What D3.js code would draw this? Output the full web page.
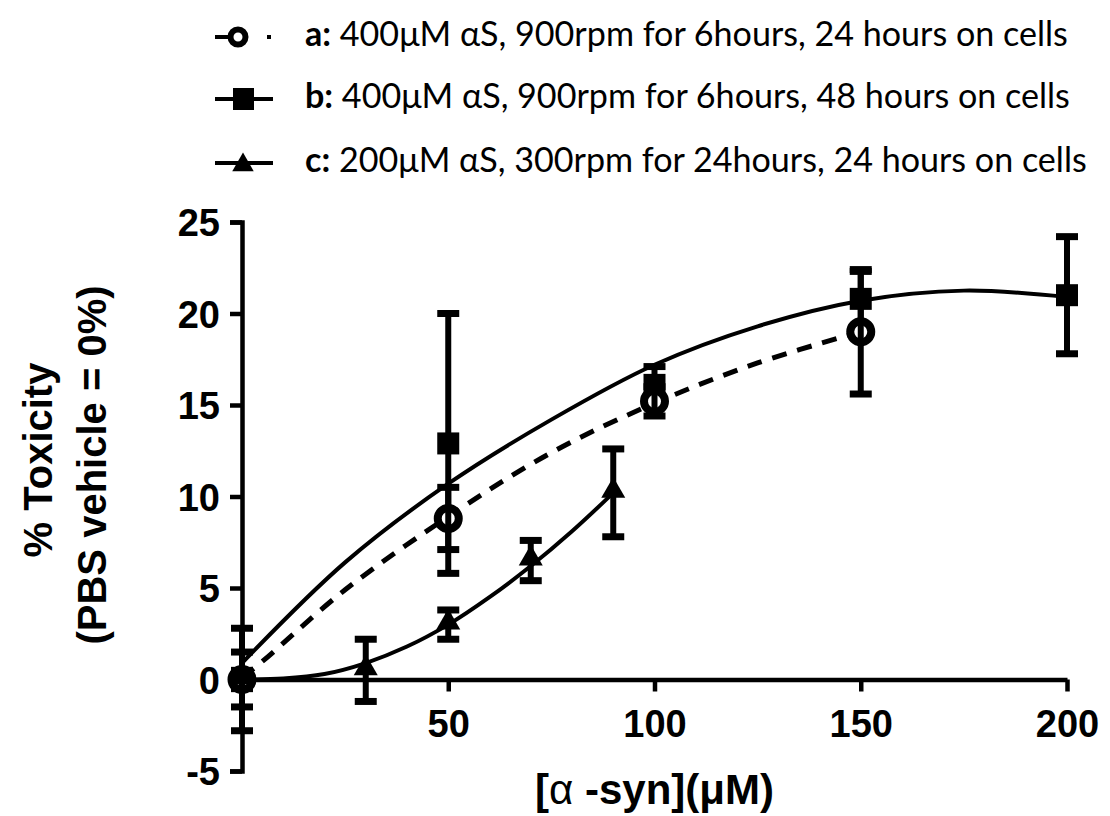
<!DOCTYPE html>
<html>
<head>
<meta charset="utf-8">
<script src="https://cdn.jsdelivr.net/npm/d3@7"></script>
<style>
  body { margin: 0; background: #fff; }
  .axis text { font-family: "Liberation Sans", Arial, sans-serif; font-weight: bold; font-size: 38px; fill: #000; }
  .axis path, .axis line { stroke: #000; stroke-width: 4.5px; }
</style>
</head>
<body>
<div id="chart"></div>
<script>
// legend
const seriesKeys = ["a:", "b:", "c:"];
const seriesLabels = [
  " 400\u03bcM \u03b1S, 900rpm for 6hours, 24 hours on cells",
  " 400\u03bcM \u03b1S, 900rpm for 6hours, 48 hours on cells",
  " 200\u03bcM \u03b1S, 300rpm for 24hours, 24 hours on cells"
];

// measured points, mean and error
const aConc = [0, 50, 100, 150];
const aTox = [0, 8.8, 15.2, 19.0];
const aErr = [1.5, 1.7, 0.8, 3.4];

const bConc = [0, 50, 100, 150, 200];
const bTox = [0, 12.9, 16.1, 20.8, 21.0];
const bErr = [2.8, 7.1, 1.0, 1.5, 3.2];

const cConc = [0, 30, 50, 70, 90];
const cTox = [0, 0.5, 3.0, 6.5, 10.2];
const cErr = [0.5, 1.7, 0.8, 1.1, 2.4];

// fitted curves
const aFitConc = [0, 5, 25, 50, 75, 100, 125, 150];
const aFitTox = [0.1, 1.0, 4.9, 8.9, 12.4, 15.1, 17.3, 19.0];

const bFitConc = [0, 25, 50, 75, 100, 125, 150, 175, 200];
const bFitTox = [0.9, 6.4, 10.7, 14.2, 17.2, 19.3, 20.7, 21.25, 20.9];

const cFitConc = [0, 10, 20, 30, 40, 50, 60, 70, 80, 90];
const cFitTox = [0, 0.05, 0.3, 0.9, 1.8, 3.0, 4.5, 6.2, 8.1, 10.2];

const xTicks = [50, 100, 150, 200];
const yTicks = [-5, 0, 5, 10, 15, 20, 25];

const width = 1110;
const height = 816;

const svg = d3.select("#chart")
  .append("svg")
  .attr("width", width)
  .attr("height", height);

const x = d3.scaleLinear().domain([0, 200]).range([242, 1067]);
const y = d3.scaleLinear().domain([-5, 25]).range([771, 222]);

// axes
svg.append("g")
  .attr("class", "axis")
  .attr("transform", `translate(${x(0)},0)`)
  .call(d3.axisLeft(y).tickValues(yTicks).tickFormat(d => String(d))
    .tickSize(12).tickSizeOuter(12).tickPadding(10))
  .selectAll("text").attr("dy", "0.36em");

svg.append("g")
  .attr("class", "axis")
  .attr("transform", `translate(0,${y(0)})`)
  .call(d3.axisBottom(x).tickValues(xTicks).tickSize(12).tickSizeOuter(0).tickPadding(19));

// axis titles
const titleFont = "'Liberation Sans', Arial, sans-serif";
svg.append("text")
  .attr("x", x(100))
  .attr("y", 804)
  .attr("text-anchor", "middle")
  .attr("font-family", titleFont)
  .attr("font-weight", "bold")
  .attr("font-size", 42)
  .html("[<tspan font-weight='normal'>\u03b1</tspan> -syn](\u03bcM)");

svg.append("text")
  .attr("transform", "translate(52,460) rotate(-90)")
  .attr("text-anchor", "middle")
  .attr("font-family", titleFont)
  .attr("font-weight", "bold")
  .attr("font-size", 40)
  .text("% Toxicity");

svg.append("text")
  .attr("transform", "translate(106,465) rotate(-90)")
  .attr("text-anchor", "middle")
  .attr("font-family", titleFont)
  .attr("font-weight", "bold")
  .attr("font-size", 40)
  .text("(PBS vehicle = 0%)");

// fit curves
const fitLine = d3.line()
  .x(d => x(d[0]))
  .y(d => y(d[1]))
  .curve(d3.curveCatmullRom);

svg.append("path")
  .attr("d", fitLine(d3.zip(bFitConc, bFitTox)))
  .attr("fill", "none").attr("stroke", "#000").attr("stroke-width", 4);

svg.append("path")
  .attr("d", fitLine(d3.zip(aFitConc, aFitTox)))
  .attr("fill", "none").attr("stroke", "#000").attr("stroke-width", 5)
  .attr("stroke-dasharray", "15 11");

svg.append("path")
  .attr("d", fitLine(d3.zip(cFitConc, cFitTox)))
  .attr("fill", "none").attr("stroke", "#000").attr("stroke-width", 4);

// error bars
function errorBars(conc, tox, err) {
  const g = svg.append("g");
  conc.forEach((c, i) => {
    const cx = x(c);
    const top = y(tox[i] + err[i]);
    const bot = y(tox[i] - err[i]);
    g.append("line").attr("x1", cx).attr("x2", cx).attr("y1", top).attr("y2", bot)
      .attr("stroke", "#000").attr("stroke-width", 6);
    [top, bot].forEach(v => {
      g.append("line").attr("x1", cx - 11).attr("x2", cx + 11).attr("y1", v).attr("y2", v)
        .attr("stroke", "#000").attr("stroke-width", 7);
    });
  });
}

// series b: squares
svg.append("g").selectAll("rect")
  .data(d3.zip(bConc, bTox))
  .join("rect")
  .attr("x", d => x(d[0]) - 11)
  .attr("y", d => y(d[1]) - 11)
  .attr("width", 22)
  .attr("height", 22)
  .attr("fill", "#000");
errorBars(bConc, bTox, bErr);

// series a: open circles
svg.append("g").selectAll("circle")
  .data(d3.zip(aConc, aTox))
  .join("circle")
  .attr("cx", d => x(d[0]))
  .attr("cy", d => y(d[1]))
  .attr("r", 10.5)
  .attr("fill", "#fff")
  .attr("stroke", "#000")
  .attr("stroke-width", 8);
errorBars(aConc, aTox, aErr);

// series c: triangles
const triangle = d3.symbol().type(d3.symbolTriangle).size(250);
svg.append("g").selectAll("path")
  .data(d3.zip(cConc, cTox))
  .join("path")
  .attr("transform", d => `translate(${x(d[0])},${y(d[1]) - 2})`)
  .attr("d", triangle)
  .attr("fill", "#000");
errorBars(cConc, cTox, cErr);

// legend
const legendY = [37, 99, 163];
const legend = svg.append("g");

// a: dashed line with open circle
legend.append("line").attr("x1", 215).attr("x2", 229).attr("y1", legendY[0]).attr("y2", legendY[0])
  .attr("stroke", "#000").attr("stroke-width", 4);
legend.append("rect").attr("x", 267).attr("y", legendY[0] - 2).attr("width", 4).attr("height", 4).attr("fill", "#000");
legend.append("circle").attr("cx", 238).attr("cy", legendY[0]).attr("r", 7.5)
  .attr("fill", "#fff").attr("stroke", "#000").attr("stroke-width", 6);

// b: line with square
legend.append("line").attr("x1", 215).attr("x2", 273).attr("y1", legendY[1]).attr("y2", legendY[1])
  .attr("stroke", "#000").attr("stroke-width", 4);
legend.append("rect").attr("x", 233).attr("y", legendY[1] - 11).attr("width", 21).attr("height", 22).attr("fill", "#000");

// c: line with triangle
legend.append("line").attr("x1", 215).attr("x2", 273).attr("y1", legendY[2]).attr("y2", legendY[2])
  .attr("stroke", "#000").attr("stroke-width", 4);
legend.append("path")
  .attr("transform", `translate(243,${legendY[2] + 2})`)
  .attr("d", d3.symbol().type(d3.symbolTriangle).size(200))
  .attr("fill", "#000");

const legendTexts = legend.selectAll("text.lbl")
  .data(seriesLabels)
  .join("text")
  .attr("class", "lbl")
  .attr("x", 305)
  .attr("y", (d, i) => legendY[i] + 9)
  .attr("font-family", "Lato, 'Open Sans', sans-serif")
  .attr("font-size", 27)
  .attr("fill", "#000");
legendTexts.append("tspan").attr("font-weight", "bold").text((d, i) => seriesKeys[i]);
legendTexts.append("tspan").text(d => d);

// fit the longest label to the width seen in the picture
let widest = 0;
legendTexts.each(function() { widest = Math.max(widest, this.getComputedTextLength()); });
legendTexts.attr("font-size", 27 * 782 / widest);
</script>
</body>
</html>
